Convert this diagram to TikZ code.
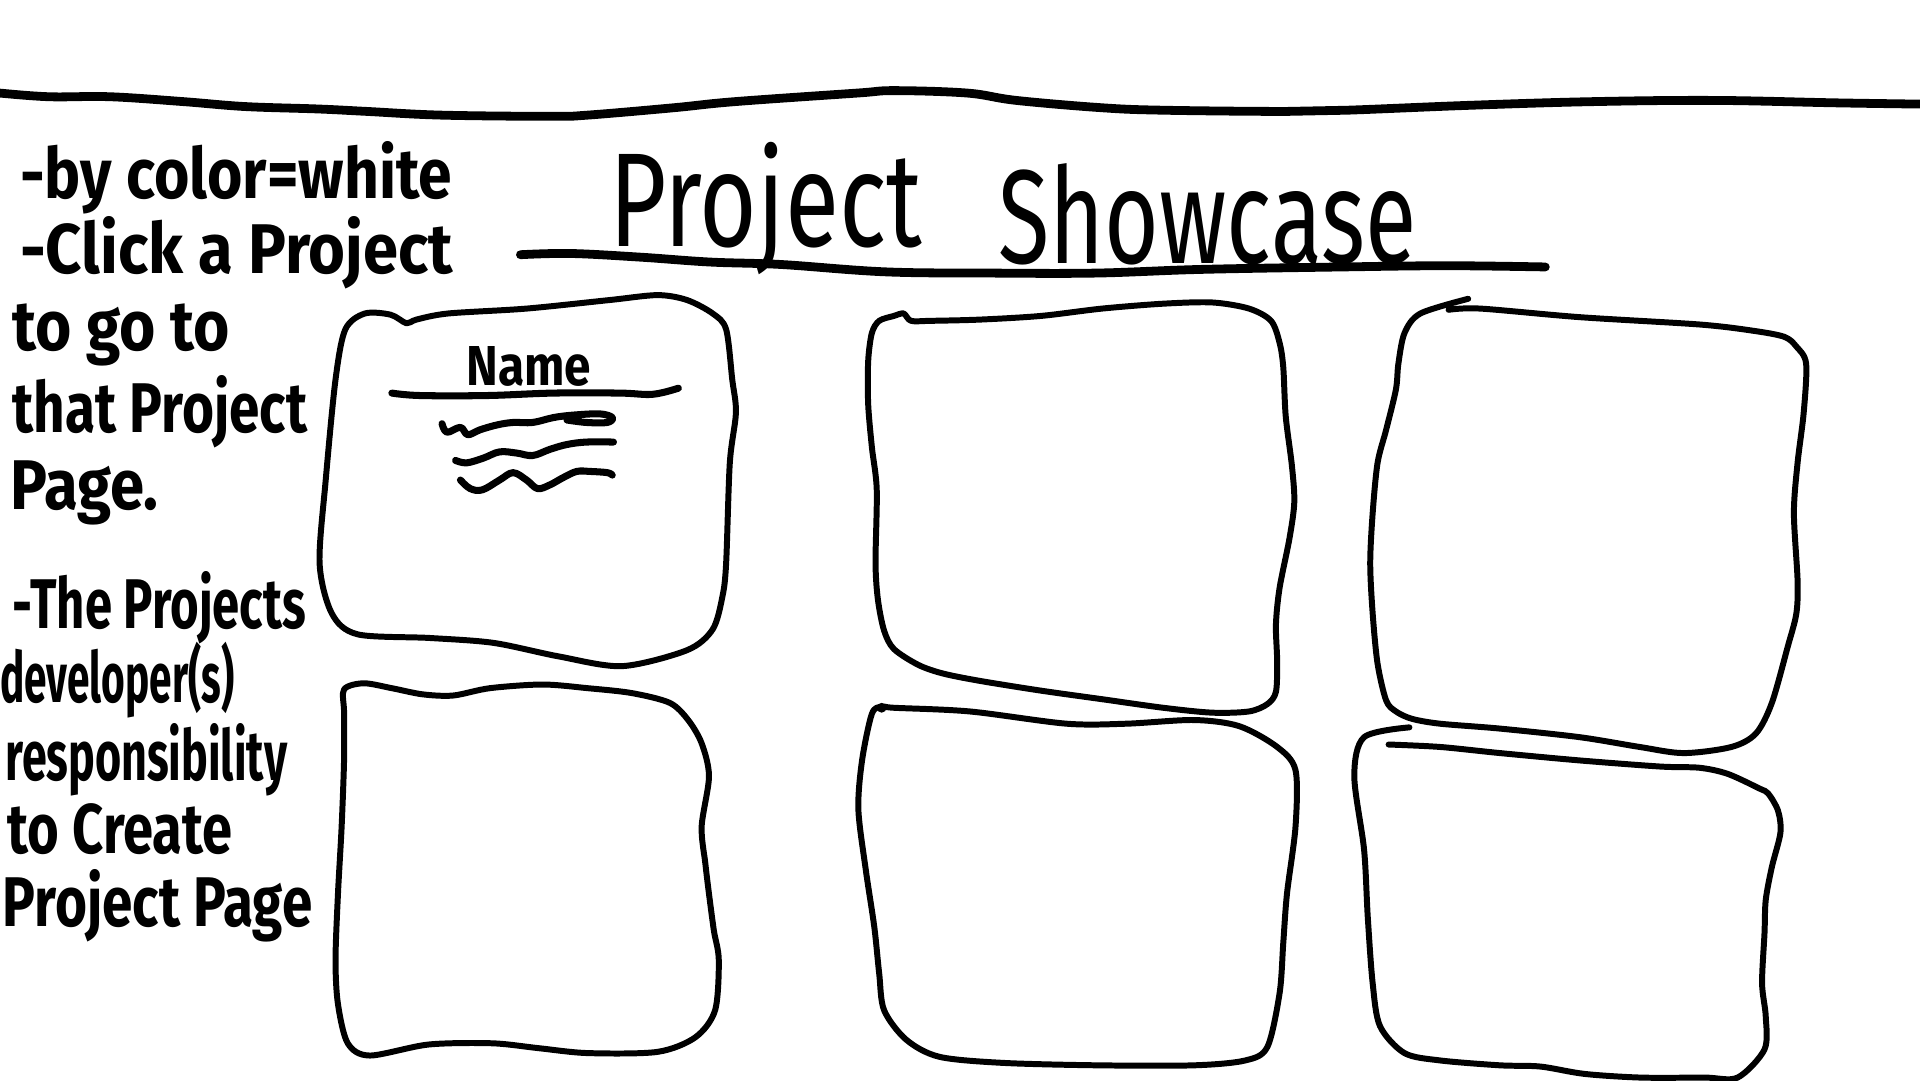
\documentclass[tikz,border=0pt]{standalone}
\usepackage{fontspec}
\setmainfont{Fira Sans}

\begin{document}
\begin{tikzpicture}[
    x=0.012245cm,y=-0.012245cm,
    pen/.style={line width=1.7pt,line cap=round,line join=round},
    thickpen/.style={line width=2.5pt,line cap=round,line join=round},
    scribble/.style={line width=2pt,line cap=round,line join=round},
    note/.style={anchor=base west,inner sep=0pt,font=\fontsize{20}{24}\selectfont\bfseries,xscale=0.75},
    headline/.style={anchor=base west,inner sep=0pt,font=\fontsize{38}{40}\selectfont,xscale=0.74},
    cardname/.style={anchor=base,inner sep=0pt,font=\fontsize{16}{18}\selectfont\bfseries,xscale=0.85}
    ]
    \fill[white] (0,0) rectangle (1568,882);
    \useasboundingbox (0,0) rectangle (1568,882);
    \draw[thickpen] plot[smooth,tension=0.6] coordinates {(0,76) (40,79) (90,79) (150,83) (200,87) (260,89) (300,91) (360,94) (450,95) (480,94) (550,88) (600,83) (700,76) (730,74) (790,76) (830,82) (900,88) (950,90) (1050,91) (1100,90) (1200,86) (1300,83) (1400,82) (1500,84) (1568,85)};
    \node[headline] (ttlproject) at (497,201) {Project};
    \node[headline,xscale=0.95] (ttlshowcase) at (815,215) {Showcase};
    \draw[thickpen] plot[smooth,tension=0.6] coordinates {(425,208) (466,207) (523,210) (580,214) (638,216) (723,222) (809,223) (895,223) (981,220) (1096,218) (1182,217) (1262,218)};
    \node[note,xscale=1.15] (bg) at (16,162) {-by color=white};
    \node[note,xscale=1.2] (click) at (16,223) {-Click a Project};
    \node[note,xscale=1.18] (goto) at (10,286) {to go to};
    \node[note,xscale=1.04] (that) at (10,353) {that Project};
    \node[note,xscale=1.17] (page) at (8,416) {Page.};
    \node[note,xscale=0.93] (projects) at (10,513) {-The Projects};
    \node[note,xscale=0.77] (devs) at (0,574) {developer(s)};
    \node[note,xscale=0.85] (resp) at (4,637) {responsibility};
    \node[note,xscale=1.03] (create) at (6,697) {to Create};
    \node[note,xscale=1.04] (projpage) at (2,757) {Project Page};
    \draw[pen] plot[smooth cycle,tension=0.5] coordinates {(282,269) (298,256) (319,257) (332,264) (340,261) (366,256) (430,252) (498,245) (537,241) (561,245) (582,256) (593,269) (598,310) (601,337) (596,378) (593,460) (590,487) (582,514) (561,531) (508,544) (456,536) (403,525) (351,521) (292,518) (271,501) (261,460) (266,392) (274,310)};
    \node[cardname] (name) at (432,315) {Name};
    \draw[scribble] plot[smooth,tension=0.6] coordinates {(320,321) (343,323) (398,323) (452,321) (506,321) (533,322) (554,317)};
    \draw[scribble] plot[smooth,tension=0.6] coordinates {(361,346) (365,353) (376,349) (382,355) (392,351) (406,347) (419,345) (435,345) (452,341) (468,339) (490,338) (500,341) (496,345) (479,345) (463,343)};
    \draw[scribble] plot[smooth,tension=0.6] coordinates {(372,376) (381,378) (395,374) (408,369) (422,370) (435,372) (449,367) (463,363) (479,361) (501,361)};
    \draw[scribble] plot[smooth,tension=0.6] coordinates {(376,392) (384,399) (394,400) (408,392) (419,386) (430,392) (439,399) (449,396) (460,390) (471,385) (482,385) (496,386) (500,388)};
    \draw[pen] plot[smooth cycle,tension=0.5] coordinates {(712,272) (718,262) (730,258) (738,256) (744,262) (760,262) (800,261) (850,258) (900,252) (950,248) (990,247) (1020,252) (1038,262) (1045,280) (1048,300) (1050,340) (1055,380) (1057,410) (1053,440) (1045,480) (1042,510) (1043,540) (1042,565) (1035,575) (1020,581) (990,582) (950,578) (900,571) (850,564) (800,556) (770,550) (750,543) (730,530) (722,515) (717,490) (715,460) (716,400) (712,365) (709,330) (709,295)};
    \draw[pen] plot[smooth,tension=0.5] coordinates {(1199,244) (1160,256) (1147,272) (1142,297) (1140,318) (1132,351) (1125,378) (1121,419) (1119,460) (1121,501) (1125,542) (1132,572) (1140,581) (1153,587) (1176,591) (1225,595) (1290,602) (1339,610) (1375,615) (1414,610) (1434,599) (1447,574) (1460,528) (1467,501) (1468,474) (1465,419) (1468,378) (1473,337) (1475,297) (1467,283) (1457,275) (1431,270) (1388,265) (1290,259) (1209,252) (1183,253)};
    \draw[pen] plot[smooth cycle,tension=0.5] coordinates {(281,563) (297,558) (320,562) (345,567) (370,568) (400,562) (443,559) (480,562) (516,566) (547,574) (562,588) (573,607) (579,634) (573,675) (576,705) (579,730) (583,760) (587,784) (584,825) (568,847) (537,859) (480,860) (440,856) (402,852) (350,853) (302,862) (284,852) (276,820) (274,784) (276,730) (279,675) (281,620) (281,582)};
    \draw[pen] plot[smooth cycle,tension=0.5] coordinates {(712,583) (704,621) (701,661) (707,710) (714,757) (718,795) (722,825) (740,849) (767,863) (819,868) (897,870) (975,870) (1017,866) (1035,855) (1045,811) (1048,770) (1051,730) (1058,675) (1058,629) (1043,610) (1012,593) (975,588) (920,591) (871,591) (792,581) (730,578) (720,577)};
    \fill (720,578) circle (4);
    \draw[pen] plot[smooth,tension=0.5] coordinates {(1151,594) (1114,602) (1106,634) (1114,694) (1117,749) (1121,803) (1127,838) (1147,860) (1176,866) (1225,870) (1258,871) (1294,877) (1340,880) (1392,880) (1419,880) (1441,857) (1442,830) (1439,803) (1441,762) (1442,735) (1447,708) (1454,680) (1452,662) (1444,648) (1437,644) (1411,632) (1388,627) (1356,626) (1290,621) (1225,615) (1176,610) (1134,608)};
  \end{tikzpicture}
\end{document}
